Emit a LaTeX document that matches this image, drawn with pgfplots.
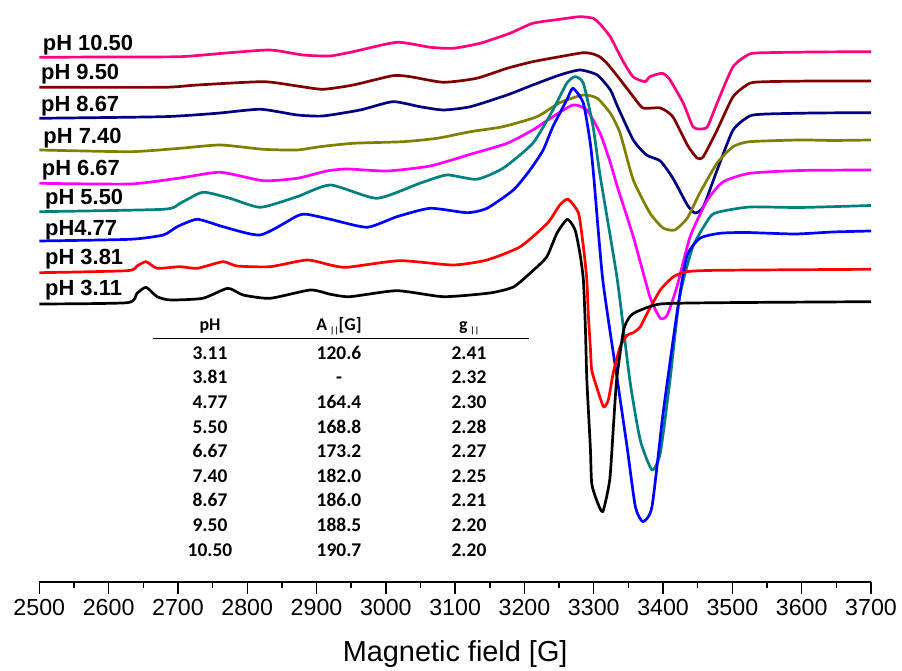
\documentclass[border=0pt]{standalone}
\usepackage{pgfplots}
\pgfplotsset{compat=1.18}
\usepackage{fontspec}
\setmainfont{Liberation Sans}
\newfontfamily\tabfont{Carlito}

% Origin-style palette
\definecolor{c1050}{RGB}{255,0,128}
\definecolor{c950}{RGB}{128,0,0}
\definecolor{c867}{RGB}{0,0,128}
\definecolor{c740}{RGB}{128,128,0}
\definecolor{c667}{RGB}{255,0,255}
\definecolor{c550}{RGB}{0,128,128}
\definecolor{c477}{RGB}{0,0,255}
\definecolor{c381}{RGB}{255,0,0}
\definecolor{c311}{RGB}{0,0,0}

\begin{document}
\begin{tikzpicture}
\begin{axis}[
  at={(39.3bp,89bp)}, anchor=south west,
  scale only axis, width=831.7bp, height=582bp,
  xmin=2500, xmax=3700, ymin=0, ymax=582,
  axis x line*=bottom, axis y line=none,
  xtick={2500,2600,...,3700},
  minor x tick num=1,
  tick align=outside,
  major tick length=12bp, minor tick length=6bp,
  every tick/.style={black, line width=1.4bp},
  axis line style={black, line width=1.6bp},
  /pgf/number format/1000 sep={},
  /pgf/number format/assume math mode=true,
  xticklabel style={font=\fontsize{23.3}{24}\selectfont, anchor=base, inner sep=0pt, yshift=-21.3bp},
  xlabel={Magnetic field [G]},
  xlabel style={font=\fontsize{29}{30}\selectfont, at={(axis description cs:0.5,0)}, anchor=base, yshift=-79.7bp, inner sep=0pt},
  every axis plot/.append style={line width=2.7bp, line join=round, smooth, tension=0.35},
]
% pH 10.50
\addplot[c1050] coordinates {
 (2500,524.7) (2600,525) (2703,525.3) (2770,529) (2833,532) (2880,527) (2919,526)
 (2953,530.3) (3016,539.7) (3064,534.7) (3097,533.7) (3136,538.7) (3179,548.7)
 (3212,558.7) (3251,562.7) (3280,565.3) (3299,563.7) (3309,558) (3324,545)
 (3342,521) (3357,505) (3374,500.3) (3381,505.3) (3399,508.7) (3410,502)
 (3429,479) (3443,455.3) (3453,453) (3464,455.3) (3478,479) (3501,515.3)
 (3525,528) (3550,529.3) (3620,530) (3700,530.3)
};
% pH 9.50
\addplot[c950] coordinates {
 (2500,494.7) (2679,494.7) (2728,497) (2823,500.3) (2872,496) (2909,492.7)
 (2953,497) (3010,506.3) (3035,505.3) (3083,499.7) (3131,503.7) (3175,513.7)
 (3212,520.3) (3251,525.3) (3285,529.3) (3299,528) (3309,525) (3319,518.7)
 (3334,506) (3357,485.3) (3371,474) (3396,474) (3414,465.3) (3435,437)
 (3449,424) (3458,425.3) (3478,452) (3501,485.3) (3525,498.7) (3550,500.3)
 (3620,501) (3700,501)
};
% pH 8.67
\addplot[c867] coordinates {
 (2500,463.7) (2679,465.3) (2756,468.7) (2819,472.7) (2872,467) (2909,466)
 (2963,472) (3010,480.3) (3049,475.3) (3083,472) (3122,475.3) (3175,487)
 (3212,497) (3251,507) (3280,512) (3305,507) (3324,492) (3334,476)
 (3357,442) (3376,427) (3396,421) (3414,404) (3435,377) (3446,369)
 (3458,375) (3478,412) (3501,452) (3525,466) (3550,468) (3620,469) (3700,469.3)
};
% pH 7.40
\addplot[c740] coordinates {
 (2500,432) (2631,430.3) (2703,433.7) (2761,437) (2823,432.7) (2872,432)
 (2905,435.3) (2953,438.7) (3025,440.3) (3074,443.7) (3122,450.3) (3169,455.3)
 (3218,465.3) (3251,479.3) (3285,487) (3305,483.7) (3324,468.7) (3338,448.7)
 (3357,402) (3381,369) (3400,354) (3417,352) (3435,364) (3453,389)
 (3478,419) (3501,435.3) (3525,440.3) (3598,442) (3645,441.5) (3700,442)
};
% pH 6.67
\addplot[c667] coordinates {
 (2500,398.7) (2631,398) (2703,404) (2761,409.7) (2823,401.3) (2872,403.7)
 (2915,411) (2944,413) (3002,411) (3064,416) (3122,427.7) (3175,438.7)
 (3212,452) (3241,465.3) (3270,477) (3290,472) (3309,449) (3324,419)
 (3334,395.3) (3357,345.3) (3381,285.3) (3396,263.7) (3406,267) (3420,295.3)
 (3439,345.3) (3464,382) (3487,400.3) (3525,408.7) (3598,411.5) (3700,412)
};
% pH 5.50
\addplot[c550] coordinates {
 (2500,370.3) (2679,372.7) (2703,378.7) (2736,389.7) (2775,383.7) (2819,374.7)
 (2872,385.3) (2920,397) (2987,383.7) (3049,398.7) (3088,407) (3131,402.7)
 (3169,413.7) (3212,438.7) (3241,472) (3261,498.7) (3273,505.3) (3285,498.7)
 (3299,455.3) (3309,407) (3334,302) (3352,202) (3367,142) (3384,112)
 (3396,129) (3410,202) (3424,285.3) (3443,335.3) (3468,365.3) (3482,370.3)
 (3525,375) (3598,374.5) (3700,376.5)
};
% pH 4.77
\addplot[c477] coordinates {
 (2500,341) (2631,342.7) (2679,347) (2699,355.3) (2728,362.7) (2765,355.3)
 (2819,347) (2872,366) (2886,367.7) (2920,362.7) (2973,354.7) (3016,365.3)
 (3064,373.7) (3117,369.3) (3146,373.7) (3184,392) (3208,412) (3227,432)
 (3241,455.3) (3261,482) (3270,493.7) (3285,478.7) (3295,438.7) (3300,405)
 (3313,302) (3334,202) (3348,135.3) (3360,75.3) (3371,60.3) (3384,75.3)
 (3400,168.7) (3420,268.7) (3434,325.3) (3453,343.7) (3482,348.7) (3520,349.5)
 (3590,348) (3645,350) (3700,351)
};
% pH 3.81
\addplot[c381] coordinates {
 (2500,309.3) (2627,311.3) (2641,316) (2654,320.3) (2670,313.7) (2703,315.3)
 (2728,313.7) (2765,320.3) (2785,316) (2833,315.3) (2886,322) (2920,317)
 (2944,314.7) (3020,321.3) (3097,317) (3146,322) (3194,335.3) (3233,358.7)
 (3251,377) (3263,382.7) (3278,368.7) (3285,335.3) (3290,302) (3292,268.7)
 (3295,235.3) (3297,212) (3304,195.3) (3314,175.3) (3321,182) (3328,208.7)
 (3338,235.3) (3348,246.7) (3357,249.3) (3367,255) (3377,268.7) (3396,292)
 (3415,305.3) (3434,310.3) (3480,311.7) (3700,312.7)
};
% pH 3.11
\addplot[c311] coordinates {
 (2500,278) (2627,279.3) (2641,288.7) (2654,294.7) (2670,285.3) (2689,282)
 (2736,283.7) (2772,293.7) (2794,287) (2833,283.7) (2891,292) (2920,287.7)
 (2948,285.3) (3016,291.3) (3083,285.3) (3150,289) (3184,295) (3210,310)
 (3232,325) (3247,349) (3262,362.7) (3273,352) (3280,328.7) (3285,302)
 (3288,252) (3290,202) (3295,135.3) (3297,98.7) (3304,82) (3313,70.3)
 (3323,102) (3328,152) (3333,202) (3343,252) (3352,265.3) (3362,270.3)
 (3396,278) (3482,279.3) (3700,280.3)
};
\end{axis}

\begin{scope}[x=1bp,y=1bp]
% curve labels
\begin{scope}[every node/.style={anchor=base west, inner sep=0pt, font=\fontsize{22}{22}\selectfont\bfseries}]
\node at (42.7,620.3) {pH 10.50};
\node at (41,591) {pH 9.50};
\node at (41,559.3) {pH 8.67};
\node at (43.3,527.7) {pH 7.40};
\node at (41.7,495) {pH 6.67};
\node at (45,466) {pH 5.50};
\node at (45,435) {pH4.77};
\node at (45,406) {pH 3.81};
\node at (45,375) {pH 3.11};
\end{scope}

% parameter table
\begin{scope}[every node/.style={anchor=base, inner sep=0pt, font=\tabfont\bfseries\fontsize{19.5}{20}\selectfont}]
\node[font=\tabfont\bfseries\fontsize{18}{18}\selectfont] at (210,340.5) {pH};
\node[font=\tabfont\bfseries\fontsize{18}{18}\selectfont] at (339,340.5) {A\,\raisebox{-3bp}{\fontsize{9}{9}\selectfont ||}[G]};
\node[font=\tabfont\bfseries\fontsize{18}{18}\selectfont] at (469,340.5) {g\,\raisebox{-3bp}{\fontsize{9}{9}\selectfont ||}};
\draw[line width=1.3bp] (152.7,332.7) -- (529,332.7);
\foreach \r/\p/\a/\g in {0/3.11/120.6/2.41, 1/3.81/-/2.32, 2/4.77/164.4/2.30,
   3/5.50/168.8/2.28, 4/6.67/173.2/2.27, 5/7.40/182.0/2.25, 6/8.67/186.0/2.21,
   7/9.50/188.5/2.20, 8/10.50/190.7/2.20}{
  \node at (210,311.7-24.6*\r) {\p};
  \node at (339,311.7-24.6*\r) {\a};
  \node at (469,311.7-24.6*\r) {\g};
}
\end{scope}

\pgfresetboundingbox
\useasboundingbox (0,0) rectangle (902,671);
\end{scope}
\end{tikzpicture}
\end{document}
